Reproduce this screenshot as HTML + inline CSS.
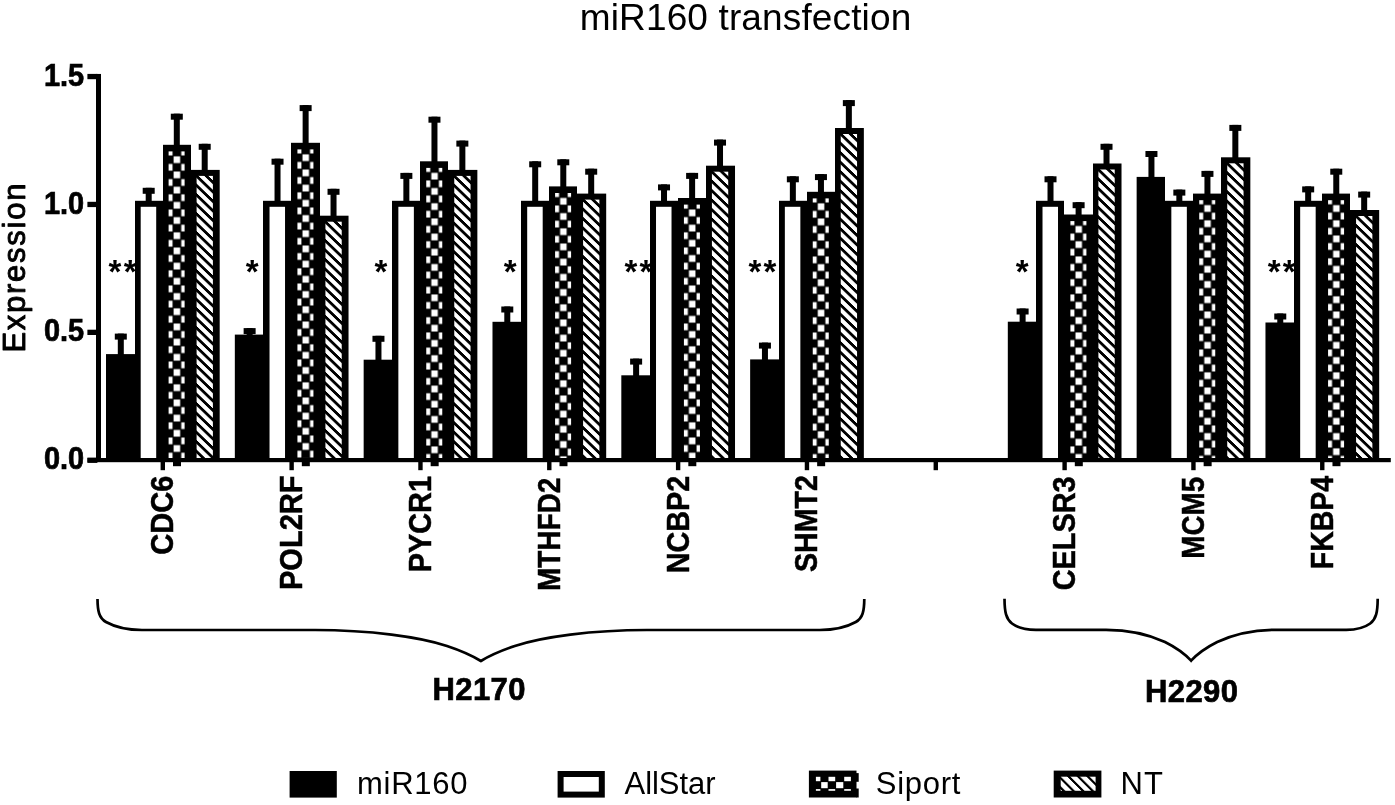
<!DOCTYPE html>
<html><head><meta charset="utf-8"><title>miR160 transfection</title>
<style>html,body{margin:0;padding:0;background:#fff}svg{display:block}</style></head>
<body>
<svg width="1395" height="805" viewBox="0 0 1395 805">
<defs>
<pattern id="ck1" patternUnits="userSpaceOnUse" x="165.50" y="148.30" width="15.2" height="15.2"><rect width="15.2" height="15.2" fill="#000"/><rect x="0.55" y="0.45" width="6.5" height="6.7" fill="#fff"/><rect x="8.15" y="8.05" width="6.5" height="6.7" fill="#fff"/></pattern>
<pattern id="ht2" patternUnits="userSpaceOnUse" width="40" height="9.5" patternTransform="translate(196.60 174.10) skewY(44)"><rect width="40" height="9.5" fill="#fff"/><rect y="0" width="40" height="3.9" fill="#000"/></pattern>
<pattern id="ck3" patternUnits="userSpaceOnUse" x="294.33" y="146.30" width="15.2" height="15.2"><rect width="15.2" height="15.2" fill="#000"/><rect x="0.55" y="0.45" width="6.5" height="6.7" fill="#fff"/><rect x="8.15" y="8.05" width="6.5" height="6.7" fill="#fff"/></pattern>
<pattern id="ht4" patternUnits="userSpaceOnUse" width="40" height="9.5" patternTransform="translate(325.43 219.90) skewY(44)"><rect width="40" height="9.5" fill="#fff"/><rect y="0" width="40" height="3.9" fill="#000"/></pattern>
<pattern id="ck5" patternUnits="userSpaceOnUse" x="423.16" y="164.80" width="15.2" height="15.2"><rect width="15.2" height="15.2" fill="#000"/><rect x="0.55" y="0.45" width="6.5" height="6.7" fill="#fff"/><rect x="8.15" y="8.05" width="6.5" height="6.7" fill="#fff"/></pattern>
<pattern id="ht6" patternUnits="userSpaceOnUse" width="40" height="9.5" patternTransform="translate(454.26 174.10) skewY(44)"><rect width="40" height="9.5" fill="#fff"/><rect y="0" width="40" height="3.9" fill="#000"/></pattern>
<pattern id="ck7" patternUnits="userSpaceOnUse" x="551.99" y="189.90" width="15.2" height="15.2"><rect width="15.2" height="15.2" fill="#000"/><rect x="0.55" y="0.45" width="6.5" height="6.7" fill="#fff"/><rect x="8.15" y="8.05" width="6.5" height="6.7" fill="#fff"/></pattern>
<pattern id="ht8" patternUnits="userSpaceOnUse" width="40" height="9.5" patternTransform="translate(583.09 197.80) skewY(44)"><rect width="40" height="9.5" fill="#fff"/><rect y="0" width="40" height="3.9" fill="#000"/></pattern>
<pattern id="ck9" patternUnits="userSpaceOnUse" x="680.82" y="201.50" width="15.2" height="15.2"><rect width="15.2" height="15.2" fill="#000"/><rect x="0.55" y="0.45" width="6.5" height="6.7" fill="#fff"/><rect x="8.15" y="8.05" width="6.5" height="6.7" fill="#fff"/></pattern>
<pattern id="ht10" patternUnits="userSpaceOnUse" width="40" height="9.5" patternTransform="translate(711.92 169.90) skewY(44)"><rect width="40" height="9.5" fill="#fff"/><rect y="0" width="40" height="3.9" fill="#000"/></pattern>
<pattern id="ck11" patternUnits="userSpaceOnUse" x="809.65" y="195.30" width="15.2" height="15.2"><rect width="15.2" height="15.2" fill="#000"/><rect x="0.55" y="0.45" width="6.5" height="6.7" fill="#fff"/><rect x="8.15" y="8.05" width="6.5" height="6.7" fill="#fff"/></pattern>
<pattern id="ht12" patternUnits="userSpaceOnUse" width="40" height="9.5" patternTransform="translate(840.75 132.20) skewY(44)"><rect width="40" height="9.5" fill="#fff"/><rect y="0" width="40" height="3.9" fill="#000"/></pattern>
<pattern id="ck13" patternUnits="userSpaceOnUse" x="1067.31" y="218.00" width="15.2" height="15.2"><rect width="15.2" height="15.2" fill="#000"/><rect x="0.55" y="0.45" width="6.5" height="6.7" fill="#fff"/><rect x="8.15" y="8.05" width="6.5" height="6.7" fill="#fff"/></pattern>
<pattern id="ht14" patternUnits="userSpaceOnUse" width="40" height="9.5" patternTransform="translate(1098.41 167.70) skewY(44)"><rect width="40" height="9.5" fill="#fff"/><rect y="0" width="40" height="3.9" fill="#000"/></pattern>
<pattern id="ck15" patternUnits="userSpaceOnUse" x="1196.14" y="197.10" width="15.2" height="15.2"><rect width="15.2" height="15.2" fill="#000"/><rect x="0.55" y="0.45" width="6.5" height="6.7" fill="#fff"/><rect x="8.15" y="8.05" width="6.5" height="6.7" fill="#fff"/></pattern>
<pattern id="ht16" patternUnits="userSpaceOnUse" width="40" height="9.5" patternTransform="translate(1227.24 161.50) skewY(44)"><rect width="40" height="9.5" fill="#fff"/><rect y="0" width="40" height="3.9" fill="#000"/></pattern>
<pattern id="ck17" patternUnits="userSpaceOnUse" x="1324.97" y="197.10" width="15.2" height="15.2"><rect width="15.2" height="15.2" fill="#000"/><rect x="0.55" y="0.45" width="6.5" height="6.7" fill="#fff"/><rect x="8.15" y="8.05" width="6.5" height="6.7" fill="#fff"/></pattern>
<pattern id="ht18" patternUnits="userSpaceOnUse" width="40" height="9.5" patternTransform="translate(1356.07 214.20) skewY(44)"><rect width="40" height="9.5" fill="#fff"/><rect y="0" width="40" height="3.9" fill="#000"/></pattern>
</defs>
<rect width="1395" height="805" fill="#fff"/>
<g font-family="'Liberation Sans', Arial, sans-serif" fill="#000">
<text x="745.5" y="30.4" font-size="37" text-anchor="middle" textLength="331.5" lengthAdjust="spacing">miR160 transfection</text>
<text transform="translate(25.4 352.6) rotate(-90)" font-size="31" textLength="169" stroke="#000" stroke-width="0.9" stroke-linejoin="round" lengthAdjust="spacing">Expression</text>
<rect x="87.4" y="457.60" width="10" height="5.3" fill="#000"/>
<text transform="translate(84.2 469.30) scale(0.95 1)" font-size="30.5" font-weight="bold" text-anchor="end" stroke="#000" stroke-width="0.7">0.0</text>
<rect x="87.4" y="329.70" width="10" height="5.3" fill="#000"/>
<text transform="translate(84.2 341.40) scale(0.95 1)" font-size="30.5" font-weight="bold" text-anchor="end" stroke="#000" stroke-width="0.7">0.5</text>
<rect x="87.4" y="201.80" width="10" height="5.3" fill="#000"/>
<text transform="translate(84.2 213.50) scale(0.95 1)" font-size="30.5" font-weight="bold" text-anchor="end" stroke="#000" stroke-width="0.7">1.0</text>
<rect x="87.4" y="73.90" width="10" height="5.3" fill="#000"/>
<text transform="translate(84.2 85.60) scale(0.95 1)" font-size="30.5" font-weight="bold" text-anchor="end" stroke="#000" stroke-width="0.7">1.5</text>
<rect x="96" y="73.95" width="5" height="388" fill="#000"/>
<rect x="87.5" y="458" width="1303.3" height="4.2" fill="#000"/>
<rect x="117.80" y="333.60" width="6" height="21.50" fill="#000"/>
<rect x="114.80" y="333.60" width="12" height="6" fill="#000"/>
<rect x="106.00" y="354.10" width="29.00" height="105.90" fill="#000"/>
<rect x="145.70" y="187.80" width="6" height="14.00" fill="#000"/>
<rect x="142.70" y="187.80" width="12" height="6" fill="#000"/>
<rect x="135.00" y="200.80" width="28.00" height="259.20" fill="#000"/>
<rect x="140.70" y="206.80" width="15.50" height="251.20" fill="#fff"/>
<rect x="173.80" y="113.70" width="6" height="32.10" fill="#000"/>
<rect x="170.80" y="113.70" width="12" height="6" fill="#000"/>
<rect x="163.00" y="144.80" width="28.00" height="315.20" fill="#000"/>
<rect x="168.60" y="151.40" width="16.00" height="306.60" fill="url(#ck1)"/>
<rect x="201.70" y="143.80" width="6" height="27.10" fill="#000"/>
<rect x="198.70" y="143.80" width="12" height="6" fill="#000"/>
<rect x="191.00" y="169.90" width="28.70" height="290.10" fill="#000"/>
<rect x="196.60" y="175.90" width="16.30" height="282.10" fill="url(#ht2)"/>
<rect x="173.00" y="460" width="8" height="6.2" fill="#000"/>
<rect x="160.60" y="460" width="4.4" height="10.2" fill="#000"/>
<text transform="translate(173.20 475.50) rotate(-90) scale(0.9537 1)" text-anchor="end" font-size="30.5" font-weight="bold" stroke="#000" stroke-width="0.5">CDC6</text>
<text x="108.60" y="282.9" font-size="33" font-weight="bold" letter-spacing="2.2">**</text>
<rect x="246.63" y="328.10" width="6" height="7.50" fill="#000"/>
<rect x="243.63" y="328.10" width="12" height="6" fill="#000"/>
<rect x="234.83" y="334.60" width="28.17" height="125.40" fill="#000"/>
<rect x="274.53" y="158.70" width="6" height="43.10" fill="#000"/>
<rect x="271.53" y="158.70" width="12" height="6" fill="#000"/>
<rect x="263.00" y="200.80" width="28.00" height="259.20" fill="#000"/>
<rect x="269.53" y="206.80" width="15.50" height="251.20" fill="#fff"/>
<rect x="302.63" y="105.10" width="6" height="38.70" fill="#000"/>
<rect x="299.63" y="105.10" width="12" height="6" fill="#000"/>
<rect x="291.00" y="142.80" width="29.00" height="317.20" fill="#000"/>
<rect x="297.43" y="149.40" width="16.00" height="308.60" fill="url(#ck3)"/>
<rect x="330.53" y="188.80" width="6" height="27.90" fill="#000"/>
<rect x="327.53" y="188.80" width="12" height="6" fill="#000"/>
<rect x="320.00" y="215.70" width="28.53" height="244.30" fill="#000"/>
<rect x="325.43" y="221.70" width="16.30" height="236.30" fill="url(#ht4)"/>
<rect x="301.83" y="460" width="8" height="6.2" fill="#000"/>
<rect x="289.43" y="460" width="4.4" height="10.2" fill="#000"/>
<text transform="translate(302.03 475.50) rotate(-90) scale(0.9525 1)" text-anchor="end" font-size="30.5" font-weight="bold" stroke="#000" stroke-width="0.5">POL2RF</text>
<text x="245.73" y="282.9" font-size="33" font-weight="bold" letter-spacing="2.2">*</text>
<rect x="375.46" y="335.80" width="6" height="24.90" fill="#000"/>
<rect x="372.46" y="335.80" width="12" height="6" fill="#000"/>
<rect x="363.66" y="359.70" width="28.34" height="100.30" fill="#000"/>
<rect x="403.36" y="172.90" width="6" height="28.90" fill="#000"/>
<rect x="400.36" y="172.90" width="12" height="6" fill="#000"/>
<rect x="392.00" y="200.80" width="28.00" height="259.20" fill="#000"/>
<rect x="398.36" y="206.80" width="15.50" height="251.20" fill="#fff"/>
<rect x="431.46" y="116.70" width="6" height="45.60" fill="#000"/>
<rect x="428.46" y="116.70" width="12" height="6" fill="#000"/>
<rect x="420.00" y="161.30" width="28.00" height="298.70" fill="#000"/>
<rect x="426.26" y="167.90" width="16.00" height="290.10" fill="url(#ck5)"/>
<rect x="459.36" y="140.60" width="6" height="30.30" fill="#000"/>
<rect x="456.36" y="140.60" width="12" height="6" fill="#000"/>
<rect x="448.00" y="169.90" width="29.36" height="290.10" fill="#000"/>
<rect x="454.26" y="175.90" width="16.30" height="282.10" fill="url(#ht6)"/>
<rect x="430.66" y="460" width="8" height="6.2" fill="#000"/>
<rect x="418.26" y="460" width="4.4" height="10.2" fill="#000"/>
<text transform="translate(430.86 476.00) rotate(-90) scale(0.9475 1)" text-anchor="end" font-size="30.5" font-weight="bold" stroke="#000" stroke-width="0.5">PYCR1</text>
<text x="374.56" y="282.9" font-size="33" font-weight="bold" letter-spacing="2.2">*</text>
<rect x="504.29" y="306.50" width="6" height="16.30" fill="#000"/>
<rect x="501.29" y="306.50" width="12" height="6" fill="#000"/>
<rect x="492.49" y="321.80" width="28.51" height="138.20" fill="#000"/>
<rect x="532.19" y="161.30" width="6" height="40.50" fill="#000"/>
<rect x="529.19" y="161.30" width="12" height="6" fill="#000"/>
<rect x="521.00" y="200.80" width="28.00" height="259.20" fill="#000"/>
<rect x="527.19" y="206.80" width="15.50" height="251.20" fill="#fff"/>
<rect x="560.29" y="159.30" width="6" height="28.10" fill="#000"/>
<rect x="557.29" y="159.30" width="12" height="6" fill="#000"/>
<rect x="549.00" y="186.40" width="28.00" height="273.60" fill="#000"/>
<rect x="555.09" y="193.00" width="16.00" height="265.00" fill="url(#ck7)"/>
<rect x="588.19" y="168.70" width="6" height="25.90" fill="#000"/>
<rect x="585.19" y="168.70" width="12" height="6" fill="#000"/>
<rect x="577.00" y="193.60" width="29.19" height="266.40" fill="#000"/>
<rect x="583.09" y="199.60" width="16.30" height="258.40" fill="url(#ht8)"/>
<rect x="559.49" y="460" width="8" height="6.2" fill="#000"/>
<rect x="547.09" y="460" width="4.4" height="10.2" fill="#000"/>
<text transform="translate(559.69 477.60) rotate(-90) scale(0.9180 1)" text-anchor="end" font-size="30.5" font-weight="bold" stroke="#000" stroke-width="0.5">MTHFD2</text>
<text x="503.69" y="282.9" font-size="33" font-weight="bold" letter-spacing="2.2">*</text>
<rect x="633.12" y="358.60" width="6" height="17.70" fill="#000"/>
<rect x="630.12" y="358.60" width="12" height="6" fill="#000"/>
<rect x="621.32" y="375.30" width="28.68" height="84.70" fill="#000"/>
<rect x="661.02" y="184.40" width="6" height="17.40" fill="#000"/>
<rect x="658.02" y="184.40" width="12" height="6" fill="#000"/>
<rect x="650.00" y="200.80" width="28.00" height="259.20" fill="#000"/>
<rect x="656.02" y="206.80" width="15.50" height="251.20" fill="#fff"/>
<rect x="689.12" y="172.90" width="6" height="26.10" fill="#000"/>
<rect x="686.12" y="172.90" width="12" height="6" fill="#000"/>
<rect x="678.00" y="198.00" width="28.00" height="262.00" fill="#000"/>
<rect x="683.92" y="204.60" width="16.00" height="253.40" fill="url(#ck9)"/>
<rect x="717.02" y="139.60" width="6" height="27.10" fill="#000"/>
<rect x="714.02" y="139.60" width="12" height="6" fill="#000"/>
<rect x="706.00" y="165.70" width="29.02" height="294.30" fill="#000"/>
<rect x="711.92" y="171.70" width="16.30" height="286.30" fill="url(#ht10)"/>
<rect x="688.32" y="460" width="8" height="6.2" fill="#000"/>
<rect x="675.92" y="460" width="4.4" height="10.2" fill="#000"/>
<text transform="translate(688.52 475.90) rotate(-90) scale(0.9416 1)" text-anchor="end" font-size="30.5" font-weight="bold" stroke="#000" stroke-width="0.5">NCBP2</text>
<text x="624.42" y="282.9" font-size="33" font-weight="bold" letter-spacing="2.2">**</text>
<rect x="761.95" y="342.60" width="6" height="17.80" fill="#000"/>
<rect x="758.95" y="342.60" width="12" height="6" fill="#000"/>
<rect x="750.15" y="359.40" width="28.85" height="100.60" fill="#000"/>
<rect x="789.85" y="176.30" width="6" height="25.50" fill="#000"/>
<rect x="786.85" y="176.30" width="12" height="6" fill="#000"/>
<rect x="779.00" y="200.80" width="28.00" height="259.20" fill="#000"/>
<rect x="784.85" y="206.80" width="15.50" height="251.20" fill="#fff"/>
<rect x="817.95" y="174.10" width="6" height="18.70" fill="#000"/>
<rect x="814.95" y="174.10" width="12" height="6" fill="#000"/>
<rect x="807.00" y="191.80" width="28.00" height="268.20" fill="#000"/>
<rect x="812.75" y="198.40" width="16.00" height="259.60" fill="url(#ck11)"/>
<rect x="845.85" y="100.10" width="6" height="28.90" fill="#000"/>
<rect x="842.85" y="100.10" width="12" height="6" fill="#000"/>
<rect x="835.00" y="128.00" width="28.85" height="332.00" fill="#000"/>
<rect x="840.75" y="134.00" width="16.30" height="324.00" fill="url(#ht12)"/>
<rect x="817.15" y="460" width="8" height="6.2" fill="#000"/>
<rect x="804.75" y="460" width="4.4" height="10.2" fill="#000"/>
<text transform="translate(817.35 475.10) rotate(-90) scale(0.9373 1)" text-anchor="end" font-size="30.5" font-weight="bold" stroke="#000" stroke-width="0.5">SHMT2</text>
<text x="748.45" y="282.9" font-size="33" font-weight="bold" letter-spacing="2.2">**</text>
<rect x="1019.61" y="308.50" width="6" height="14.20" fill="#000"/>
<rect x="1016.61" y="308.50" width="12" height="6" fill="#000"/>
<rect x="1007.81" y="321.70" width="28.19" height="138.30" fill="#000"/>
<rect x="1047.51" y="176.30" width="6" height="25.50" fill="#000"/>
<rect x="1044.51" y="176.30" width="12" height="6" fill="#000"/>
<rect x="1036.00" y="200.80" width="28.00" height="259.20" fill="#000"/>
<rect x="1042.51" y="206.80" width="15.50" height="251.20" fill="#fff"/>
<rect x="1075.61" y="202.20" width="6" height="13.30" fill="#000"/>
<rect x="1072.61" y="202.20" width="12" height="6" fill="#000"/>
<rect x="1064.00" y="214.50" width="29.00" height="245.50" fill="#000"/>
<rect x="1070.41" y="221.10" width="16.00" height="236.90" fill="url(#ck13)"/>
<rect x="1103.51" y="143.80" width="6" height="20.70" fill="#000"/>
<rect x="1100.51" y="143.80" width="12" height="6" fill="#000"/>
<rect x="1093.00" y="163.50" width="28.51" height="296.50" fill="#000"/>
<rect x="1098.41" y="169.50" width="16.30" height="288.50" fill="url(#ht14)"/>
<rect x="1074.81" y="460" width="8" height="6.2" fill="#000"/>
<rect x="1062.41" y="460" width="4.4" height="10.2" fill="#000"/>
<text transform="translate(1075.01 476.30) rotate(-90) scale(0.9479 1)" text-anchor="end" font-size="30.5" font-weight="bold" stroke="#000" stroke-width="0.5">CELSR3</text>
<text x="1015.71" y="282.9" font-size="33" font-weight="bold" letter-spacing="2.2">*</text>
<rect x="1148.44" y="151.00" width="6" height="26.90" fill="#000"/>
<rect x="1145.44" y="151.00" width="12" height="6" fill="#000"/>
<rect x="1136.64" y="176.90" width="28.36" height="283.10" fill="#000"/>
<rect x="1176.34" y="189.60" width="6" height="12.20" fill="#000"/>
<rect x="1173.34" y="189.60" width="12" height="6" fill="#000"/>
<rect x="1165.00" y="200.80" width="28.00" height="259.20" fill="#000"/>
<rect x="1171.34" y="206.80" width="15.50" height="251.20" fill="#fff"/>
<rect x="1204.44" y="170.90" width="6" height="23.70" fill="#000"/>
<rect x="1201.44" y="170.90" width="12" height="6" fill="#000"/>
<rect x="1193.00" y="193.60" width="28.00" height="266.40" fill="#000"/>
<rect x="1199.24" y="200.20" width="16.00" height="257.80" fill="url(#ck15)"/>
<rect x="1232.34" y="124.90" width="6" height="33.40" fill="#000"/>
<rect x="1229.34" y="124.90" width="12" height="6" fill="#000"/>
<rect x="1221.00" y="157.30" width="29.34" height="302.70" fill="#000"/>
<rect x="1227.24" y="163.30" width="16.30" height="294.70" fill="url(#ht16)"/>
<rect x="1203.64" y="460" width="8" height="6.2" fill="#000"/>
<rect x="1191.24" y="460" width="4.4" height="10.2" fill="#000"/>
<text transform="translate(1203.84 476.80) rotate(-90) scale(0.9136 1)" text-anchor="end" font-size="30.5" font-weight="bold" stroke="#000" stroke-width="0.5">MCM5</text>
<rect x="1277.27" y="313.50" width="6" height="10.00" fill="#000"/>
<rect x="1274.27" y="313.50" width="12" height="6" fill="#000"/>
<rect x="1265.47" y="322.50" width="28.53" height="137.50" fill="#000"/>
<rect x="1305.17" y="186.40" width="6" height="15.40" fill="#000"/>
<rect x="1302.17" y="186.40" width="12" height="6" fill="#000"/>
<rect x="1294.00" y="200.80" width="28.00" height="259.20" fill="#000"/>
<rect x="1300.17" y="206.80" width="15.50" height="251.20" fill="#fff"/>
<rect x="1333.27" y="168.70" width="6" height="25.90" fill="#000"/>
<rect x="1330.27" y="168.70" width="12" height="6" fill="#000"/>
<rect x="1322.00" y="193.60" width="28.00" height="266.40" fill="#000"/>
<rect x="1328.07" y="200.20" width="16.00" height="257.80" fill="url(#ck17)"/>
<rect x="1361.17" y="191.60" width="6" height="19.40" fill="#000"/>
<rect x="1358.17" y="191.60" width="12" height="6" fill="#000"/>
<rect x="1350.00" y="210.00" width="29.17" height="250.00" fill="#000"/>
<rect x="1356.07" y="216.00" width="16.30" height="242.00" fill="url(#ht18)"/>
<rect x="1332.47" y="460" width="8" height="6.2" fill="#000"/>
<rect x="1320.07" y="460" width="4.4" height="10.2" fill="#000"/>
<text transform="translate(1332.67 475.90) rotate(-90) scale(0.9327 1)" text-anchor="end" font-size="30.5" font-weight="bold" stroke="#000" stroke-width="0.5">FKBP4</text>
<text x="1267.67" y="282.9" font-size="33" font-weight="bold" letter-spacing="2.2">**</text>
<rect x="933.58" y="460" width="4.4" height="10.2" fill="#000"/>
<path d="M97.5,599.0 C97.6,611.0 99.0,618.0 106.0,622.0 C115.0,627.0 128.0,630.0 142.0,630.0 L315.0,630.0 C370.0,630.0 420.0,637.0 447.0,646.0 C462.0,651.0 472.0,655.5 480.9,661.0 C489.8,655.5 499.8,651.0 514.8,646.0 C541.8,637.0 591.8,630.0 646.8,630.0 L819.8,630.0 C833.8,630.0 846.8,627.0 855.8,622.0 C862.8,618.0 864.2,611.0 864.3,599.0" fill="none" stroke="#000" stroke-width="2.7" stroke-linejoin="miter"/>
<path d="M1004.5,598.7 C1004.6,612.0 1006.0,619.0 1012.0,623.5 C1018.0,628.0 1026.0,629.8 1036.0,629.8 L1106.0,629.8 C1130.0,629.8 1150.0,635.0 1165.0,642.0 C1176.0,647.5 1185.0,654.0 1191.1,660.7 C1197.2,654.0 1206.2,647.5 1217.2,642.0 C1232.2,635.0 1252.2,629.8 1276.2,629.8 L1346.2,629.8 C1356.2,629.8 1364.2,628.0 1370.2,623.5 C1376.2,619.0 1377.6,612.0 1377.7,598.7" fill="none" stroke="#000" stroke-width="2.7" stroke-linejoin="miter"/>
<text x="479.2" y="700" font-size="31" font-weight="bold" text-anchor="middle" stroke="#000" stroke-width="0.7" letter-spacing="0.4">H2170</text>
<text x="1191.7" y="701.5" font-size="31" font-weight="bold" text-anchor="middle" stroke="#000" stroke-width="0.7" letter-spacing="0.4">H2290</text>
<rect x="289.6" y="771" width="47.2" height="26.6" fill="#000"/>
<text x="357" y="794.3" font-size="31" textLength="110.5" lengthAdjust="spacing">miR160</text>
<rect x="560.6" y="774" width="41.2" height="20.6" fill="#fff" stroke="#000" stroke-width="6"/>
<text x="624.5" y="794.3" font-size="31" textLength="91" lengthAdjust="spacing">AllStar</text>
<rect x="808.9" y="770.6" width="47.6" height="26.9" fill="#000"/>
<rect x="856" y="773.1" width="2.7" height="8.7" fill="#000"/>
<rect x="856" y="788.5" width="2.7" height="9" fill="#000"/>
<rect x="815.9" y="776.8" width="4.5" height="4.4" fill="#fff"/>
<rect x="815.9" y="789.1" width="4.5" height="1.7" fill="#fff"/>
<rect x="828.5" y="776.8" width="6.7" height="4.4" fill="#fff"/>
<rect x="828.5" y="789.1" width="6.7" height="1.7" fill="#fff"/>
<rect x="844.2" y="776.8" width="6.7" height="4.4" fill="#fff"/>
<rect x="844.2" y="789.1" width="6.7" height="1.7" fill="#fff"/>
<rect x="821.2" y="782.1" width="6.5" height="6.1" fill="#fff"/>
<rect x="836.1" y="782.1" width="7.2" height="6.1" fill="#fff"/>
<text x="875.8" y="794.3" font-size="31" textLength="84.5" lengthAdjust="spacing">Siport</text>
<pattern id="htL" patternUnits="userSpaceOnUse" width="9.6" height="40" patternTransform="translate(1067.3 776.7) skewX(45)"><rect width="9.6" height="40" fill="#fff"/><rect x="0" width="3.1" height="40" fill="#000"/></pattern>
<rect x="1053.7" y="770.6" width="47.7" height="26.9" fill="#000"/>
<rect x="1060.7" y="776.7" width="34.9" height="14.1" fill="url(#htL)"/>
<text x="1120.5" y="794.3" font-size="31" textLength="42.5" lengthAdjust="spacing">NT</text>
</g>
</svg>
</body></html>
